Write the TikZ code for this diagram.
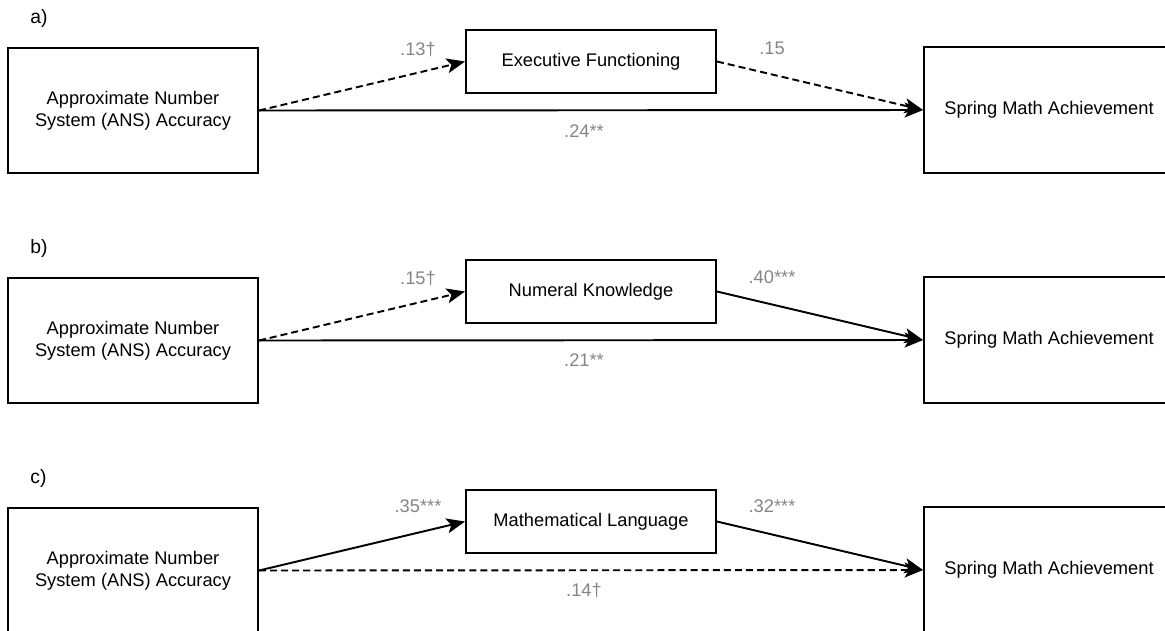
\documentclass[tikz,border=0pt]{standalone}
\usepackage{fontspec}
\setmainfont{Liberation Sans}
\usepackage{tikz}
\usetikzlibrary{arrows.meta}
\definecolor{coefgray}{gray}{0.52}
\tikzset{
    ansbox/.style={draw, rectangle, minimum width=5cm, minimum height=2.5cm, align=center, draw=black, line width=1.1pt, font=\fontsize{10.4}{12.5}\selectfont},
    medbox/.style={ansbox, minimum height=1.26cm},
    outbox/.style={ansbox, minimum height=2.52cm},
    coef/.style={inner sep=0pt, text=coefgray, font=\fontsize{10.4}{12.5}\selectfont},
    panel/.style={inner sep=0pt, anchor=west, font=\fontsize{11}{13}\selectfont},
    link/.style={->, line width=1.1pt, draw=black},
    weaklink/.style={link, dash pattern=on 4pt off 2.3pt}
}

\begin{document}
\begin{tikzpicture}[x=0.02cm, y=-0.02cm, >={Stealth[length=10.5pt, width=8.5pt, inset=2.5pt]}]

        \path[use as bounding box, clip] (0,0) rectangle (1165,630);

        % -----------------------------------------------------------------
        % a) EXECUTIVE FUNCTIONING
        % -----------------------------------------------------------------
        \node[panel] (panelA) at (30,18) {a)};
        \node[ansbox] (ansA) at (133,110.5) {Approximate Number\\System (ANS) Accuracy};
        \node[medbox] (efA) at (591,61.5) {Executive Functioning};
        \node[outbox] (smaA) at (1049,110) {Spring Math Achievement};

        \draw[weaklink] (ansA.east) -- (efA.west);
        \draw[weaklink] (efA.east) -- (smaA.west);
        \draw[link] (ansA.east) -- (smaA.west);

        \node[coef] (cA1) at (418,49) {.13†};
        \node[coef] (cA2) at (772,48) {.15};
        \node[coef] (cA3) at (584,131) {.24**};

        % -----------------------------------------------------------------
        % b) NUMERAL KNOWLEDGE
        % -----------------------------------------------------------------
        \node[panel] (panelB) at (30,248) {b)};
        \node[ansbox] (ansB) at (133,340.5) {Approximate Number\\System (ANS) Accuracy};
        \node[medbox] (nkB) at (591,291.5) {Numeral Knowledge};
        \node[outbox] (smaB) at (1049,340) {Spring Math Achievement};

        \draw[weaklink] (ansB.east) -- (nkB.west);
        \draw[link] (nkB.east) -- (smaB.west);
        \draw[link] (ansB.east) -- (smaB.west);

        \node[coef] (cB1) at (418,278) {.15†};
        \node[coef] (cB2) at (772,277) {.40***};
        \node[coef] (cB3) at (584,360) {.21**};

        % -----------------------------------------------------------------
        % c) MATHEMATICAL LANGUAGE
        % -----------------------------------------------------------------
        \node[panel] (panelC) at (30,478) {c)};
        \node[ansbox] (ansC) at (133,570.5) {Approximate Number\\System (ANS) Accuracy};
        \node[medbox] (mlC) at (591,521.5) {Mathematical Language};
        \node[outbox] (smaC) at (1049,570) {Spring Math Achievement};

        \draw[link] (ansC.east) -- (mlC.west);
        \draw[link] (mlC.east) -- (smaC.west);
        \draw[weaklink] (ansC.east) -- (smaC.west);

        \node[coef] (cC1) at (418,506) {.35***};
        \node[coef] (cC2) at (772,506) {.32***};
        \node[coef] (cC3) at (584,590) {.14†};

\end{tikzpicture}
\end{document}
